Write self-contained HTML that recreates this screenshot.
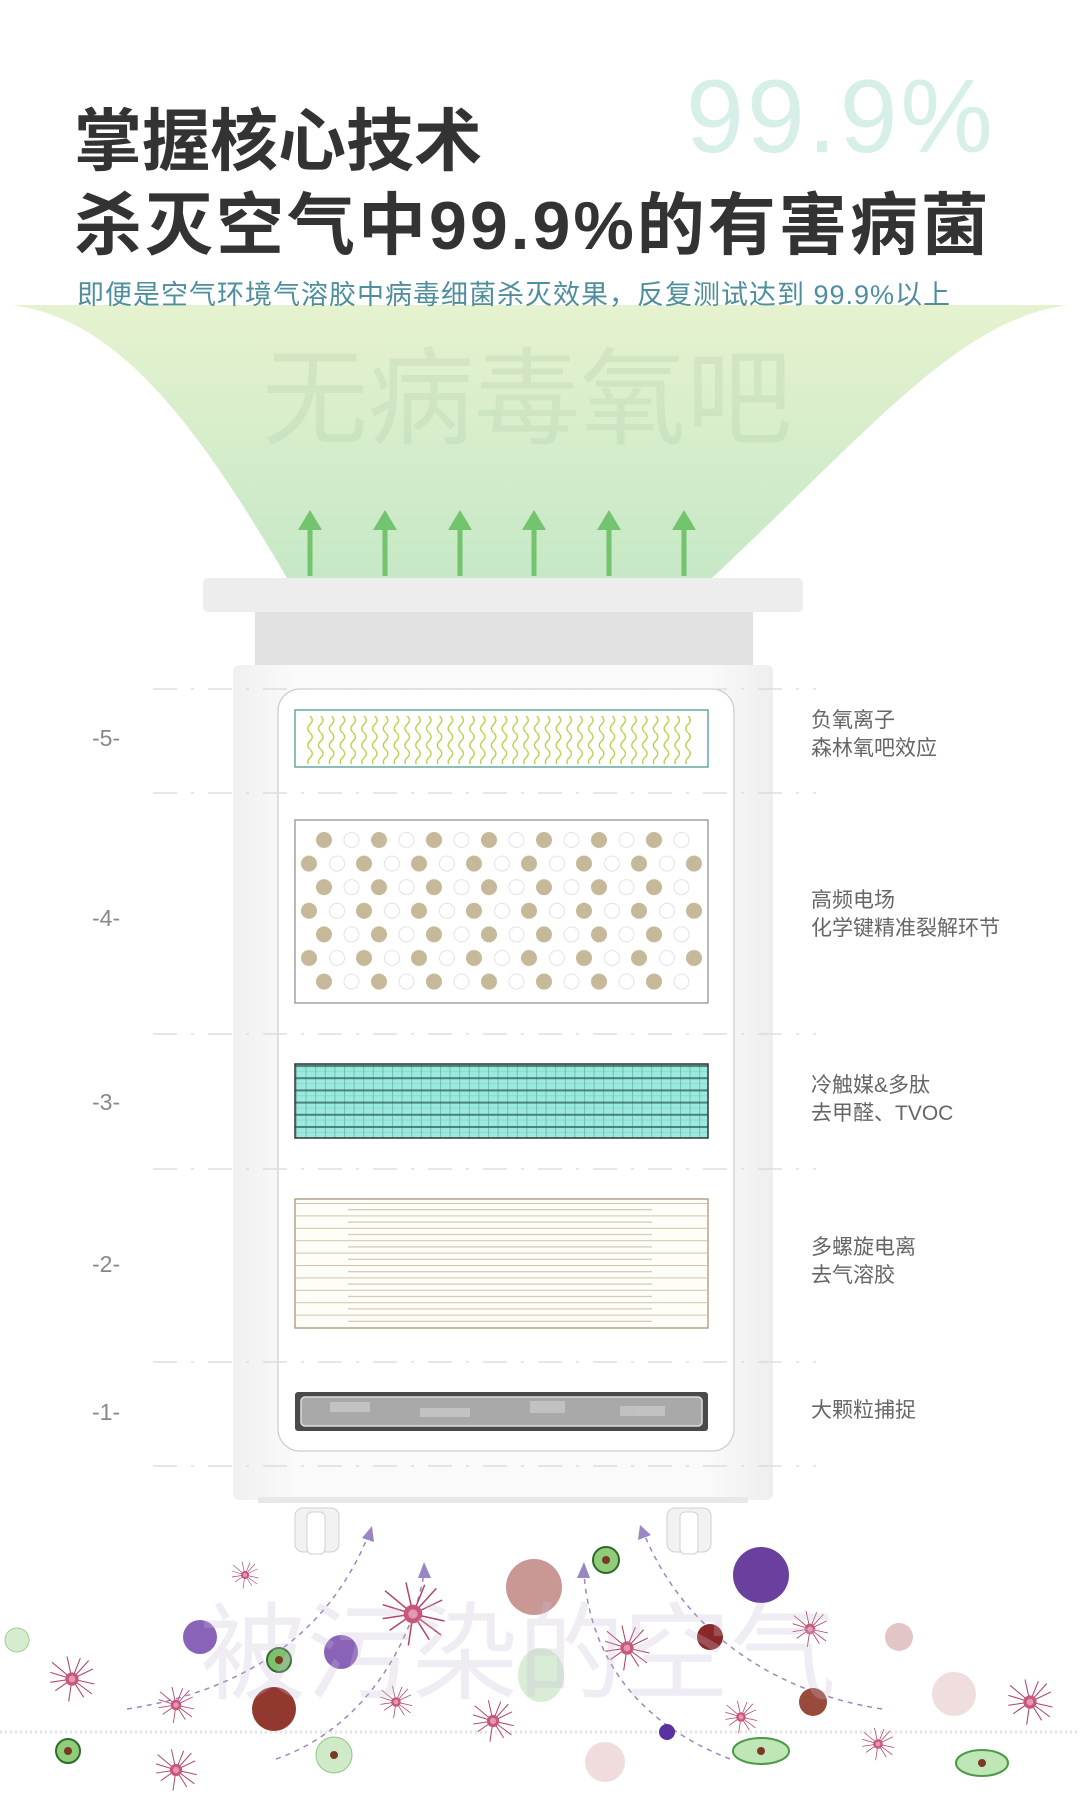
<!DOCTYPE html>
<html><head><meta charset="utf-8">
<style>
html,body{margin:0;padding:0;background:#fff;}
body{width:1080px;height:1800px;position:relative;overflow:hidden;font-family:"Liberation Sans","Noto Sans CJK SC",sans-serif;}
.t{position:absolute;white-space:nowrap;}
</style></head><body>
<svg width="1080" height="1800" style="position:absolute;left:0;top:0">
<defs>
<linearGradient id="fg" x1="0" y1="0" x2="0" y2="1">
<stop offset="0" stop-color="#e6f2cf"/><stop offset="1" stop-color="#c6e8c6"/></linearGradient>
<linearGradient id="body" x1="0" y1="0" x2="1" y2="0">
<stop offset="0" stop-color="#f0f0f0"/><stop offset="0.12" stop-color="#fafafa"/><stop offset="0.88" stop-color="#fafafa"/><stop offset="1" stop-color="#eeeeee"/></linearGradient>
<pattern id="wave" x="305" y="716" width="10.8" height="16.7" patternUnits="userSpaceOnUse">
<path d="M5,0 Q9.5,4.2 5,8.35 Q0.5,12.5 5,16.7" fill="none" stroke="#b5cc3c" stroke-width="1.3"/></pattern>
<pattern id="dotsA" x="314" y="828" width="55" height="47.2" patternUnits="userSpaceOnUse">
<circle cx="10" cy="12" r="8" fill="#c6b99a"/>
<circle cx="37.5" cy="12" r="7.5" fill="#fff" stroke="#e2e2e2"/></pattern>
<pattern id="dotsB" x="299" y="828" width="55" height="47.2" patternUnits="userSpaceOnUse">
<circle cx="10" cy="35.6" r="8" fill="#c6b99a"/>
<circle cx="38" cy="35.6" r="7.5" fill="#fff" stroke="#e2e2e2"/></pattern>
<pattern id="grid" x="296" y="1065" width="9.6" height="12.2" patternUnits="userSpaceOnUse">
<rect width="9.6" height="12.2" fill="#9aeae0"/>
<rect y="0" width="9.6" height="2" fill="#2f5e58" opacity="0.75"/>
<rect x="0" width="1" height="12.2" fill="#2f5e58" opacity="0.3"/>
<rect y="6" width="9.6" height="0.6" fill="#5aa79d" opacity="0.4"/></pattern>
<pattern id="lines" x="296" y="1203" width="410" height="12.4" patternUnits="userSpaceOnUse">
<line x1="0" y1="0.5" x2="410" y2="0.5" stroke="#d2c4a8" stroke-width="1"/>
<line x1="52" y1="6.7" x2="356" y2="6.7" stroke="#c8bca5" stroke-width="1"/></pattern>
<symbol id="star" viewBox="-30 -30 60 60">
<g stroke="#b4456a" stroke-width="1.3" fill="none">
<path d="M0,0 L-26,-8 M0,0 L-20,14 M0,0 L-6,-27 M0,0 L10,-25 M0,0 L25,-12 M0,0 L27,6 M0,0 L14,22 M0,0 L-4,27 M0,0 L-24,-20 M0,0 L20,-22 M0,0 L-26,4 M0,0 L24,18"/></g>
<circle r="8" fill="#c9577c"/><circle r="4" fill="#e29ab1"/></symbol>
</defs>

<path d="M11,305 L1069,305 C 960,318 870,430 712,578 L287,578 C 200,430 120,318 11,305 Z" fill="url(#fg)"/>
<g stroke="#72c46e" stroke-width="5" fill="#72c46e">
<line x1="310" y1="576" x2="310" y2="528"/><path d="M298,530 L310,510 L322,530 Z" stroke="none"/>
<line x1="385" y1="576" x2="385" y2="528"/><path d="M373,530 L385,510 L397,530 Z" stroke="none"/>
<line x1="460" y1="576" x2="460" y2="528"/><path d="M448,530 L460,510 L472,530 Z" stroke="none"/>
<line x1="534" y1="576" x2="534" y2="528"/><path d="M522,530 L534,510 L546,530 Z" stroke="none"/>
<line x1="609" y1="576" x2="609" y2="528"/><path d="M597,530 L609,510 L621,530 Z" stroke="none"/>
<line x1="684" y1="576" x2="684" y2="528"/><path d="M672,530 L684,510 L696,530 Z" stroke="none"/>
</g>

<rect x="203" y="578" width="600" height="34" rx="5" fill="#ededed"/>
<rect x="255" y="612" width="498" height="53" fill="#e2e2e2"/>
<rect x="233" y="665" width="540" height="835" rx="6" fill="url(#body)"/>
<rect x="258" y="1497" width="490" height="6" fill="#e8e8e8"/>
<g fill="#f2f2f2" stroke="#d0d0d0">
<rect x="295" y="1508" width="44" height="44" rx="8"/><rect x="307" y="1512" width="18" height="42" rx="5" fill="#fff"/>
<rect x="667" y="1508" width="44" height="44" rx="8"/><rect x="680" y="1512" width="18" height="42" rx="5" fill="#fff"/>
</g>
<rect x="278" y="689" width="456" height="762" rx="22" fill="#fff" stroke="#cfcfcf" stroke-width="1.3"/>

<g stroke="#d8d8d8" stroke-width="1.3" stroke-dasharray="24,14,3,14">
<line x1="153" y1="689" x2="816" y2="689"/>
<line x1="153" y1="793" x2="816" y2="793"/>
<line x1="153" y1="1034" x2="816" y2="1034"/>
<line x1="153" y1="1169" x2="816" y2="1169"/>
<line x1="153" y1="1362" x2="816" y2="1362"/>
<line x1="153" y1="1466" x2="816" y2="1466"/>
</g>

<rect x="295" y="710" width="413" height="57" fill="#fff" stroke="#4f9a90" stroke-width="1.3"/>
<rect x="305" y="716" width="390" height="48" fill="url(#wave)"/>
<rect x="295" y="820" width="413" height="183" fill="#fff" stroke="#8a8a8a" stroke-width="1.2"/>
<rect x="314" y="828" width="376" height="166" fill="url(#dotsA)"/>
<rect x="299" y="828" width="405" height="166" fill="url(#dotsB)"/>
<rect x="295" y="1064" width="413" height="74" fill="url(#grid)" stroke="#333" stroke-width="1.5"/>
<rect x="295" y="1199" width="413" height="129" fill="#fffdf8" stroke="#a08d70" stroke-width="1.2"/>
<rect x="296" y="1203" width="411" height="124" fill="url(#lines)"/>
<rect x="295" y="1392" width="413" height="39" rx="3" fill="#4a4a4a"/>
<rect x="301" y="1397" width="401" height="29" rx="4" fill="#a9a9a9" stroke="#ddd" stroke-width="1.5"/>
<g fill="#c8c8c8" opacity="0.8"><rect x="330" y="1402" width="40" height="10"/><rect x="420" y="1408" width="50" height="9"/><rect x="530" y="1401" width="35" height="12"/><rect x="620" y="1406" width="45" height="10"/></g>

<line x1="0" y1="1732" x2="1080" y2="1732" stroke="#e2e2e2" stroke-width="3" stroke-dasharray="2,3"/>

<g fill="none" stroke="#9b86c4" stroke-width="1.5" stroke-dasharray="5,5">
<path d="M127,1709 C 250,1690 330,1630 368,1536"/>
<path d="M276,1759 C 360,1730 410,1650 424,1574"/>
<path d="M730,1759 C 630,1720 590,1650 584,1574"/>
<path d="M882,1709 C 760,1690 680,1620 645,1536"/>
</g>
<g fill="#9b86c4">
<path d="M362,1538 L372,1526 L374,1542 Z"/><path d="M418,1578 L424,1562 L431,1578 Z"/>
<path d="M577,1578 L584,1562 L590,1578 Z"/><path d="M638,1540 L640,1525 L651,1535 Z"/>
</g>

<g>
<circle cx="200" cy="1637" r="17" fill="#8a63b8"/>
<circle cx="17" cy="1640" r="12" fill="#d6ecd0" stroke="#9fcf92"/>
<circle cx="279" cy="1660" r="12" fill="#7fc06e" stroke="#2e6a2a" stroke-width="2"/><circle cx="279" cy="1660" r="4" fill="#7a3a22"/>
<circle cx="341" cy="1652" r="17" fill="#8a63b8"/>
<circle cx="274" cy="1709" r="22" fill="#93382e"/>
<circle cx="534" cy="1587" r="28" fill="#c99894"/>
<circle cx="606" cy="1560" r="13" fill="#8fcd7b" stroke="#2e6a2a" stroke-width="2"/><circle cx="606" cy="1560" r="4" fill="#7a3a22"/>
<ellipse cx="541" cy="1675" rx="23" ry="27" fill="#cfe9cc" opacity="0.8"/>
<circle cx="710" cy="1637" r="13" fill="#8a2828"/>
<circle cx="761" cy="1575" r="28" fill="#6b3f9e"/>
<circle cx="899" cy="1637" r="14" fill="#e3c5c6"/>
<circle cx="667" cy="1732" r="8" fill="#5a32a0"/>
<circle cx="813" cy="1702" r="14" fill="#9a4a3a"/>
<circle cx="954" cy="1694" r="22" fill="#f0dede"/>
<circle cx="68" cy="1751" r="12" fill="#8fcd7b" stroke="#2e6a2a" stroke-width="2"/><circle cx="68" cy="1751" r="4" fill="#7a3a22"/>
<circle cx="334" cy="1755" r="18" fill="#cfeac8" stroke="#8fc880"/><circle cx="334" cy="1755" r="4" fill="#7a3a22"/>
<circle cx="605" cy="1762" r="20" fill="#f0dcdc"/>
<ellipse cx="761" cy="1751" rx="28" ry="13" fill="#bfe6b6" stroke="#4a9a46" stroke-width="2"/><circle cx="761" cy="1751" r="4" fill="#7a3a22"/>
<ellipse cx="982" cy="1763" rx="26" ry="13" fill="#bfe6b6" stroke="#4a9a46" stroke-width="2"/><circle cx="982" cy="1763" r="4" fill="#7a3a22"/>
<use href="#star" x="230" y="1560" width="30" height="30"/>
<use href="#star" x="47" y="1654" width="50" height="50"/>
<use href="#star" x="156" y="1685" width="40" height="40"/>
<use href="#star" x="378" y="1579" width="70" height="70"/>
<use href="#star" x="378" y="1684" width="36" height="36"/>
<use href="#star" x="602" y="1623" width="50" height="50"/>
<use href="#star" x="790" y="1609" width="40" height="40"/>
<use href="#star" x="470" y="1698" width="46" height="46"/>
<use href="#star" x="723" y="1699" width="36" height="36"/>
<use href="#star" x="1005" y="1677" width="50" height="50"/>
<use href="#star" x="153" y="1747" width="46" height="46"/>
<use href="#star" x="860" y="1726" width="36" height="36"/>
</g>
</svg>

<div class="t" style="left:686px;top:58px;font-size:104px;letter-spacing:3px;color:#d6efe8;font-family:'Liberation Sans',sans-serif;">99.9%</div>
<div class="t" style="left:74px;top:102px;font-size:68px;font-weight:bold;color:#333;line-height:80px;">掌握核心技术</div>
<div class="t" style="left:74px;top:186px;font-size:68px;font-weight:bold;color:#333;line-height:80px;letter-spacing:3px;">杀灭空气中99.9%的有害病菌</div>
<div class="t" style="left:77px;top:278px;font-size:27px;color:#4f8f9d;line-height:34px;letter-spacing:1px;">即便是空气环境气溶胶中病毒细菌杀灭效果，反复测试达到 99.9%以上</div>
<div class="t" style="left:262px;top:340px;font-size:106px;color:rgba(120,160,120,0.12);line-height:120px;">无病毒氧吧</div>

<div class="t" style="left:92px;top:725px;font-size:23px;color:#888;">-5-</div>
<div class="t" style="left:92px;top:905px;font-size:23px;color:#888;">-4-</div>
<div class="t" style="left:92px;top:1089px;font-size:23px;color:#888;">-3-</div>
<div class="t" style="left:92px;top:1251px;font-size:23px;color:#888;">-2-</div>
<div class="t" style="left:92px;top:1399px;font-size:23px;color:#888;">-1-</div>

<div class="t" style="left:811px;top:707px;font-size:21px;color:#666;line-height:28px;">负氧离子<br>森林氧吧效应</div>
<div class="t" style="left:811px;top:887px;font-size:21px;color:#666;line-height:28px;">高频电场<br>化学键精准裂解环节</div>
<div class="t" style="left:811px;top:1072px;font-size:21px;color:#666;line-height:28px;">冷触媒&amp;多肽<br>去甲醛、TVOC</div>
<div class="t" style="left:811px;top:1234px;font-size:21px;color:#666;line-height:28px;">多螺旋电离<br>去气溶胶</div>
<div class="t" style="left:811px;top:1397px;font-size:21px;color:#666;line-height:28px;">大颗粒捕捉</div>

<div class="t" style="left:200px;top:1595px;font-size:106px;color:rgba(200,185,215,0.28);line-height:120px;">被污染的空气</div>
</body></html>
